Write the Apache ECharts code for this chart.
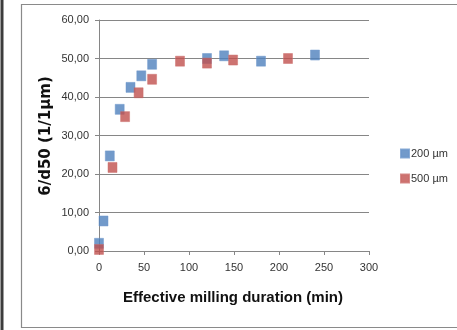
<!DOCTYPE html>
<html>
<head>
<meta charset="utf-8">
<script src="https://cdn.jsdelivr.net/npm/echarts@6/dist/echarts.min.js"></script>
<style>
  html, body { margin: 0; padding: 0; background: #fff; }
  #chart { width: 457px; height: 330px; }
</style>
</head>
<body>
<div id="chart"></div>
<script>
// Milling time (min) and specific surface indicator 6/d50 for two feed sizes
const time200 = [0, 5, 12, 23, 35, 47, 59, 120, 139, 180, 240];
const val200  = [2.0, 7.8, 24.7, 36.8, 42.5, 45.5, 48.5, 50.0, 50.7, 49.3, 50.9];
const time500 = [0, 15, 29, 44, 59, 90, 120, 149, 210];
const val500  = [0.4, 21.7, 34.9, 41.1, 44.6, 49.3, 48.8, 49.6, 50.0];

const seriesNames = ['200 µm', '500 µm'];
const yTicks = [0, 10, 20, 30, 40, 50, 60];
const xTicks = [0, 50, 100, 150, 200, 250, 300];

const pairs = (xs, ys) => xs.map((x, i) => [x, ys[i]]);

const chart = echarts.init(document.getElementById('chart'), null, { renderer: 'canvas' });
const gridColor = '#868686';
const labelFont = 'Liberation Sans, Arial, sans-serif';

chart.setOption({
  animation: false,
  backgroundColor: '#ffffff',
  grid: { left: 99, right: 88, top: 20, bottom: 79, containLabel: false },
  xAxis: {
    type: 'value',
    min: xTicks[0], max: xTicks[xTicks.length - 1], interval: 50,
    axisLine: { show: true, lineStyle: { color: gridColor, width: 1 } },
    axisTick: { show: true, length: 4, lineStyle: { color: gridColor } },
    splitLine: { show: false },
    axisLabel: { color: '#333', fontSize: 11, fontFamily: labelFont, margin: 11 }
  },
  yAxis: {
    type: 'value',
    min: yTicks[0], max: yTicks[yTicks.length - 1], interval: 10,
    axisLine: { show: true, lineStyle: { color: gridColor, width: 1 } },
    axisTick: { show: true, length: 4, inside: false, lineStyle: { color: gridColor } },
    splitLine: { show: true, lineStyle: { color: gridColor, width: 1 } },
    axisLabel: {
      color: '#333', fontSize: 11, fontFamily: labelFont, margin: 10,
      formatter: v => v.toFixed(2).replace('.', ',')
    }
  },
  legend: {
    orient: 'vertical',
    left: 395, top: 143,
    itemWidth: 8, itemHeight: 8, itemGap: 14,
    icon: 'rect',
    textStyle: { color: '#333', fontSize: 11, fontFamily: labelFont, padding: [0, 0, 0, -3] },
    data: seriesNames
  },
  series: [
    {
      name: seriesNames[0], type: 'scatter', symbol: 'rect', symbolSize: [9, 10],
      itemStyle: { color: '#4F81BD', borderColor: '#6C96CB', borderWidth: 0.6 },
      data: pairs(time200, val200)
    },
    {
      name: seriesNames[1], type: 'scatter', symbol: 'rect', symbolSize: [9, 10],
      itemStyle: { color: '#C0504D', borderColor: '#CC6E6B', borderWidth: 0.6 },
      data: pairs(time500, val500)
    }
  ],
  graphic: [
    // chart frame
    { type: 'rect', shape: { x: 21.5, y: 4.5, width: 460, height: 323 },
      style: { fill: null, stroke: '#8a8a8a', lineWidth: 1.2 }, silent: true, z: -1 },
    { type: 'rect', shape: { x: 0.5, y: 0, width: 3, height: 330 },
      style: { fill: '#3c3c3c' }, silent: true },
    // axis titles
    { type: 'text', x: 46, y: 136, rotation: Math.PI / 2,
      style: { text: '6/d50 (1/1µm)', fill: '#111', font: 'bold 15px "DejaVu Sans", sans-serif',
               align: 'center', verticalAlign: 'middle' } },
    { type: 'text', x: 233, y: 298,
      style: { text: 'Effective milling duration (min)', fill: '#111',
               font: 'bold 15px "Liberation Sans", Arial, sans-serif',
               align: 'center', verticalAlign: 'middle' } }
  ]
});
</script>
</body>
</html>
